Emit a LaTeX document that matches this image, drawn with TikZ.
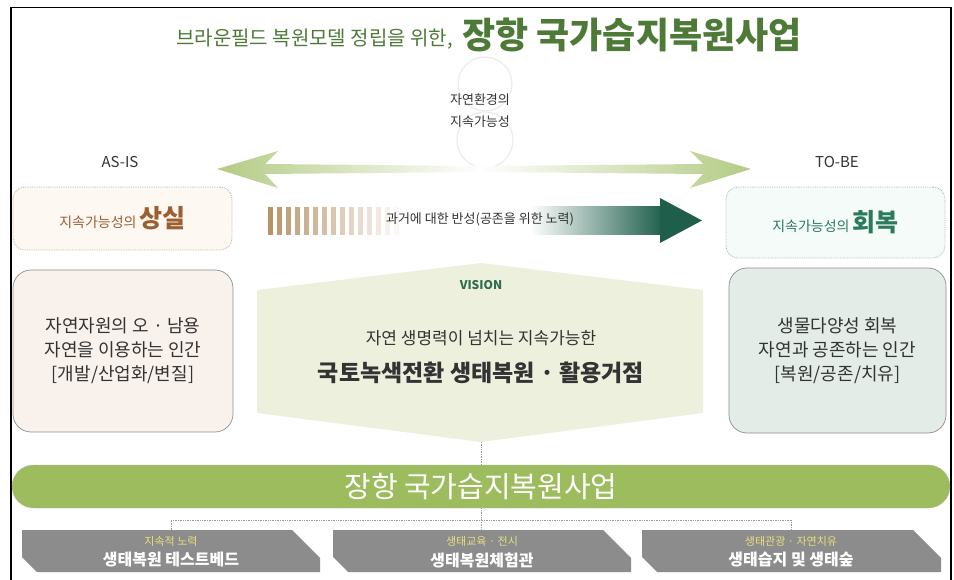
\documentclass[tikz,border=0pt]{standalone}
\usepackage{fontspec}
\setmainfont{Noto Sans CJK KR}
\usetikzlibrary{calc}
\definecolor{titlegreen}{HTML}{4E7A38}
\definecolor{streakgreen}{HTML}{C6D99C}
\definecolor{circgray}{HTML}{EBEBEB}
\definecolor{darktxt}{HTML}{333333}
\definecolor{arrgreen}{HTML}{B3CB84}
\definecolor{lossfill}{HTML}{FDF8F2}
\definecolor{lossborder}{HTML}{BFAE9E}
\definecolor{lossbrown}{HTML}{9C5F30}
\definecolor{gainfill}{HTML}{F5FBF8}
\definecolor{gainborder}{HTML}{A3B8B0}
\definecolor{gainteal}{HTML}{2B7A5C}
\definecolor{stripebrown}{HTML}{B8936A}
\definecolor{arrdark}{HTML}{1E5E4B}
\definecolor{asisfill}{HTML}{F9F2EC}
\definecolor{tobefill}{HTML}{E3ECE6}
\definecolor{lowborder}{HTML}{8E8E8E}
\definecolor{visfill}{HTML}{EEF0DE}
\definecolor{visgreen}{HTML}{2F6B4E}
\definecolor{bargreen}{HTML}{9DBC5E}
\definecolor{bannergray}{HTML}{8C8C8C}
\definecolor{banneryellow}{HTML}{E9E07C}
\begin{document}
\begin{tikzpicture}[x=1pt,y=-1pt]
\tikzset{
  topbox/.style={rounded corners=12pt, densely dotted, line width=0.8pt, inner sep=0pt},
  lowbox/.style={rounded corners=18pt, draw=lowborder, line width=0.7pt, align=center,
     font=\fontsize{18}{24}\selectfont, text=darktxt},
  conn/.style={densely dotted, draw=gray!80, line width=0.7pt},
  bsub/.style={text=banneryellow, font=\fontsize{11}{13}\selectfont, inner sep=0pt},
  btxt/.style={text=white, font=\bfseries\fontsize{16}{18}\selectfont, inner sep=0pt},
}
\useasboundingbox (0,0) rectangle (954,580);
% frame
\draw[line width=1.6pt, black] (11,582) -- (11,7.5) -- (951,7.5) -- (951,582);
% title streak
\shade[left color=white, middle color=streakgreen, right color=white]
  (105,58) -- (180,48) -- (860,52) -- (860,56) -- (300,66) -- cycle;
% title
\node[anchor=base east, text=titlegreen, font=\fontsize{20}{22}\selectfont, inner sep=0pt] (t1) at (453,46) {브라운필드 복원모델 정립을 위한,};
\node[anchor=base west, text=titlegreen, font=\bfseries\fontsize{36}{38}\selectfont, inner sep=0pt] (t2) at (462,49) {장항 국가습지복원사업};
% circles
\draw[circgray, line width=1.2pt] (485,84) circle (27pt);
\draw[circgray, line width=1.2pt] (485,140) circle (28pt);
\node[align=center, font=\fontsize{13}{22}\selectfont, text=darktxt] (nat) at (480,111) {자연환경의\\지속가능성};
% double arrow
\shade[left color=arrgreen, right color=white]
  (217,169) -- (278,151) -- (265,164) -- (482,166) -- (482,172) -- (265,174) -- (278,188) -- cycle;
\shade[left color=white, right color=arrgreen]
  (751,169) -- (690,151) -- (703,164) -- (478,166) -- (478,172) -- (703,174) -- (690,188) -- cycle;
\node[font=\fontsize{15}{17}\selectfont, text=darktxt] (asis) at (120,162) {AS-IS};
\node[font=\fontsize{15}{17}\selectfont, text=darktxt] (tobe) at (837,162) {TO-BE};
% top boxes
\node[topbox, draw=lossborder, fill=lossfill, minimum width=219pt, minimum height=63pt] (loss) at (122.5,218.5)
  {\color{lossbrown}\fontsize{14}{16}\selectfont 지속가능성의 {\bfseries\fontsize{25}{27}\selectfont 상실}};
\node[topbox, draw=gainborder, fill=gainfill, minimum width=219pt, minimum height=71pt] (gain) at (835.5,222.5)
  {\color{gainteal}\fontsize{14}{16}\selectfont 지속가능성의 {\bfseries\fontsize{25}{27}\selectfont 회복}};
% middle arrow
\foreach \i in {0,...,14} {
  \fill[stripebrown, opacity={1-\i/15}] ({268+\i*9},207) rectangle ++(4.5,28);
}
\shade[left color=white, right color=arrdark] (530,207) rectangle (664,235);
\fill[arrdark] (660,198) -- (702,220.5) -- (660,243) -- cycle;
\node[font=\fontsize{13}{15}\selectfont, text=darktxt] (refl) at (480,219) {과거에 대한 반성(공존을 위한 노력)};
% lower boxes
\node[lowbox, fill=asisfill, minimum width=220pt, minimum height=162pt] (asisbox) at (123,351)
  {자연자원의 오 · 남용\\자연을 이용하는 인간\\{[}개발/산업화/변질{]}};
\node[lowbox, fill=tobefill, minimum width=217pt, minimum height=165pt] (tobebox) at (837.5,350.5)
  {생물다양성 회복\\자연과 공존하는 인간\\{[}복원/공존/치유{]}};
% vision
\fill[visfill] (257,290) -- (481,263) -- (703,290) -- (703,413) -- (481,442) -- (257,413) -- cycle;
\coordinate (visbot) at (481,442);
\node[font=\bfseries\fontsize{12}{14}\selectfont, text=visgreen] (vis) at (481,285) {VISION};
\node[font=\fontsize{17}{19}\selectfont, text=darktxt] (vis1) at (481,338) {자연 생명력이 넘치는 지속가능한};
\node[font=\bfseries\fontsize{23}{25}\selectfont, text=darktxt] (vis2) at (481,373) {국토녹색전환 생태복원 · 활용거점};
% bar
\node[fill=bargreen, draw=gray!60, densely dotted, line width=0.6pt, rounded corners=21.5pt, minimum width=938pt, minimum height=43pt,
  text=white, font=\fontsize{29}{31}\selectfont, inner sep=0pt] (bar) at (481,486.5) {장항 국가습지복원사업};
% banners
\foreach \L/\R/\n in {22/320/1, 333/631/2, 642/941/3} {
  \fill[bannergray] (\L,530) -- ({\R-28},530) -- (\R,558) -- (\R,572) -- ({\L+15},572) -- (\L,557) -- cycle;
  \coordinate (btop\n) at ({(\L+\R)/2},530);
}
\node[bsub] (s1) at (171,541) {지속적 노력};
\node[btxt] (m1) at (171,560) {생태복원 테스트베드};
\node[bsub] (s2) at (482,541) {생태교육 · 전시};
\node[btxt] (m2) at (482,560) {생태복원체험관};
\node[bsub] (s3) at (791,541) {생태관광 · 자연치유};
\node[btxt] (m3) at (791,560) {생태습지 및 생태숲};
% connectors
\coordinate (junc) at (481,520);
\draw[conn] (visbot) -- (bar.north);
\draw[conn] (bar.south) -- (bar.south |- btop2);
\draw[conn] (btop1) |- (junc) -| (btop3);
\end{tikzpicture}
\end{document}
